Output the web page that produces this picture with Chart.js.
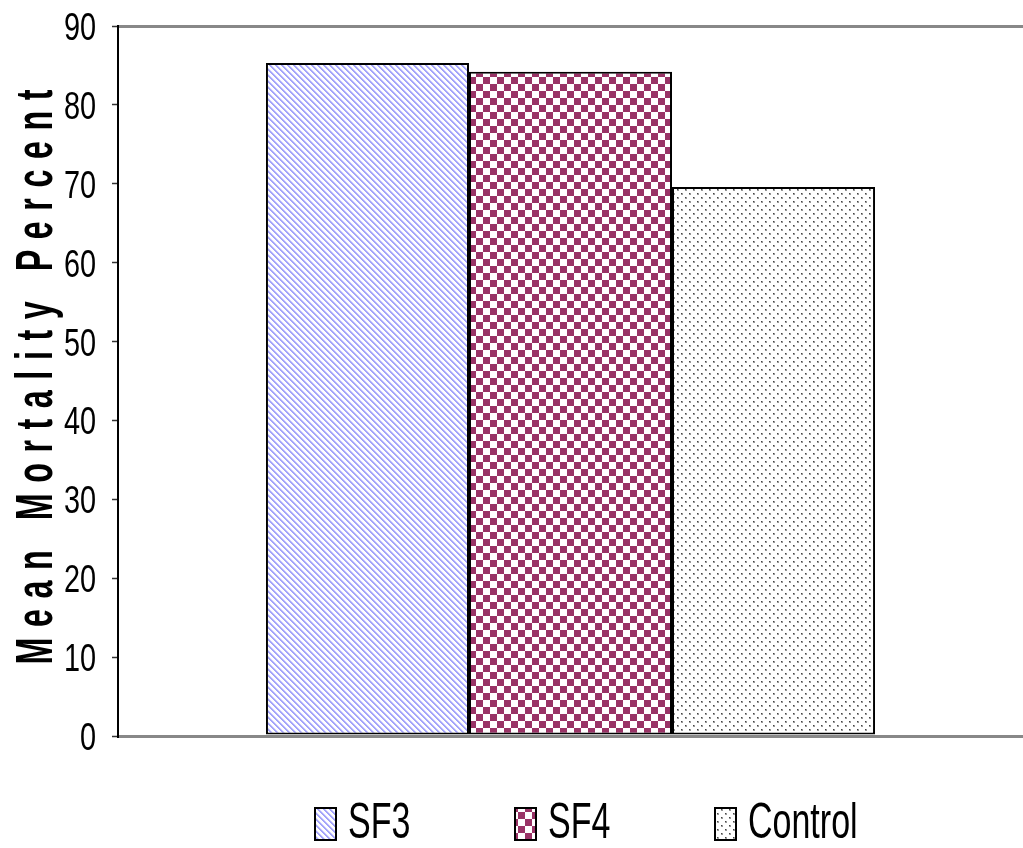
<!DOCTYPE html>
<html>
<head>
<meta charset="utf-8">
<script src="https://cdn.jsdelivr.net/npm/chart.js@4.4.1/dist/chart.umd.min.js"></script>
<style>
  html, body { margin: 0; padding: 0; background: #fff; }
  #wrap { width: 1023px; height: 848px; }
</style>
</head>
<body>
<div id="wrap"><canvas id="mortalityChart"></canvas></div>
<script>
// --- data ---
const categories = [''];
const seriesNames = ['SF3', 'SF4', 'Control'];
const sf3Values = [85.3];
const sf4Values = [84.2];
const controlValues = [69.6];
const yTicks = [0, 10, 20, 30, 40, 50, 60, 70, 80, 90];
const yTitle = 'Mean Mortality Percent';

const PLAIN = "'Liberation Sans', Arial, sans-serif";

const canvas = document.getElementById('mortalityChart');
const ctx = canvas.getContext('2d');

// --- fill patterns ---
function makePattern(size, paint) {
    const c = document.createElement('canvas');
    c.width = size;
    c.height = size;
    const g = c.getContext('2d');
    g.fillStyle = '#fff';
    g.fillRect(0, 0, size, size);
    paint(g, size);
    return ctx.createPattern(c, 'repeat');
}

const stripes = makePattern(6, (g, s) => {
    for (let y = 0; y < s; y++) {
        for (let x = 0; x < s; x++) {
            const d = (x - y + s) % s;
            if (d === 0 || d === 1) { g.fillStyle = '#a4a4fa'; g.fillRect(x, y, 1, 1); }
            else if (d === 2) { g.fillStyle = '#d4d4fd'; g.fillRect(x, y, 1, 1); }
        }
    }
});

const checks = makePattern(14, (g) => {
    g.fillStyle = '#993366';
    g.fillRect(0, 0, 7, 7);
    g.fillRect(7, 7, 7, 7);
});

const dots = makePattern(8, (g) => {
    g.fillStyle = '#999';
    g.fillRect(1, 1, 2, 2);
    g.fillRect(5, 5, 2, 2);
    g.fillStyle = '#444';
    g.fillRect(1, 1, 1, 1);
    g.fillRect(5, 5, 1, 1);
});

const fills = [stripes, checks, dots];
const values = [sf3Values, sf4Values, controlValues];

const datasets = seriesNames.map((name, i) => ({
    label: name,
    data: values[i],
    backgroundColor: fills[i],
    borderColor: '#000',
    borderWidth: 2,
    borderSkipped: false,
    categoryPercentage: 0.673,
    barPercentage: 1.0
}));

// condensed text helper
function squeezedText(c, text, x, y, sx, align) {
    const w = c.measureText(text).width * sx;
    c.save();
    c.translate(align === 'right' ? x - w : x, y);
    c.scale(sx, 1);
    c.fillText(text, 0, 0);
    c.restore();
}

// --- y tick labels (condensed like the original) ---
const yLabelPlugin = {
    id: 'yLabels',
    afterDraw(chart) {
        const { ctx } = chart;
        const y = chart.scales.y;
        ctx.save();
        ctx.font = '39px ' + PLAIN;
        ctx.fillStyle = '#000';
        ctx.textBaseline = 'alphabetic';
        yTicks.forEach(v => {
            squeezedText(ctx, String(v), 96, y.getPixelForValue(v) + 14, 0.74, 'right');
        });
        ctx.restore();
    }
};

// --- y title (letter spaced, condensed) ---
const yTitlePlugin = {
    id: 'yTitle',
    afterDraw(chart) {
        const { ctx, chartArea } = chart;
        const sx = 0.62;
        ctx.save();
        ctx.font = 'bold 52px ' + PLAIN;
        ctx.fillStyle = '#000';
        ctx.textBaseline = 'alphabetic';
        const chars = yTitle.split('');
        const widths = chars.map(ch => ctx.measureText(ch).width * sx);
        const sum = widths.reduce((a, b) => a + b, 0);
        const total = 575;
        const gap = (total - sum) / (chars.length - 1);
        ctx.translate(52, (chartArea.top + chartArea.bottom) / 2 - 4);
        ctx.rotate(-Math.PI / 2);
        let pos = -total / 2;
        chars.forEach((ch, i) => {
            ctx.save();
            ctx.translate(pos, 0);
            ctx.scale(sx, 1);
            ctx.fillText(ch, 0, 0);
            ctx.restore();
            pos += widths[i] + gap;
        });
        ctx.restore();
    }
};

// --- legend at bottom ---
const legendPlugin = {
    id: 'bottomLegend',
    afterDraw(chart) {
        const { ctx } = chart;
        const startX = 315, step = 200, boxW = 21, boxH = 32, boxTop = 808, baseline = 838;
        ctx.save();
        ctx.font = '50px ' + PLAIN;
        chart.data.datasets.forEach((ds, i) => {
            const x = startX + i * step;
            ctx.fillStyle = ds.backgroundColor;
            ctx.fillRect(x, boxTop, boxW, boxH);
            ctx.strokeStyle = '#000';
            ctx.lineWidth = 2;
            ctx.strokeRect(x, boxTop, boxW, boxH);
            ctx.fillStyle = '#000';
            squeezedText(ctx, ds.label, x + boxW + 12, baseline, 0.68, 'left');
        });
        ctx.restore();
    }
};

new Chart(ctx, {
    type: 'bar',
    data: { labels: categories, datasets: datasets },
    options: {
        responsive: true,
        maintainAspectRatio: false,
        animation: false,
        layout: { padding: { top: 26, right: 0, left: 0, bottom: 0 } },
        plugins: {
            legend: { display: false },
            tooltip: { enabled: false }
        },
        scales: {
            x: {
                grid: { display: false },
                ticks: { display: false },
                border: { display: true, color: '#888', width: 3 },
                afterFit: (s) => { s.height = 112; }
            },
            y: {
                min: yTicks[0],
                max: yTicks[yTicks.length - 1],
                afterBuildTicks: (s) => { s.ticks = yTicks.map(v => ({ value: v })); },
                ticks: {
                    color: 'rgba(0,0,0,0)',
                    padding: 16,
                    font: { family: PLAIN, size: 8 }
                },
                grid: {
                    color: (c) => (c.tick && (c.tick.value === 0 || c.tick.value === 90)) ? '#888' : 'rgba(0,0,0,0)',
                    lineWidth: 3,
                    tickColor: '#333',
                    tickLength: 6,
                    tickWidth: 1.5
                },
                border: { color: '#000', width: 2 },
                afterFit: (s) => { s.width = 118; }
            }
        }
    },
    plugins: [yLabelPlugin, yTitlePlugin, legendPlugin]
});
</script>
</body>
</html>
